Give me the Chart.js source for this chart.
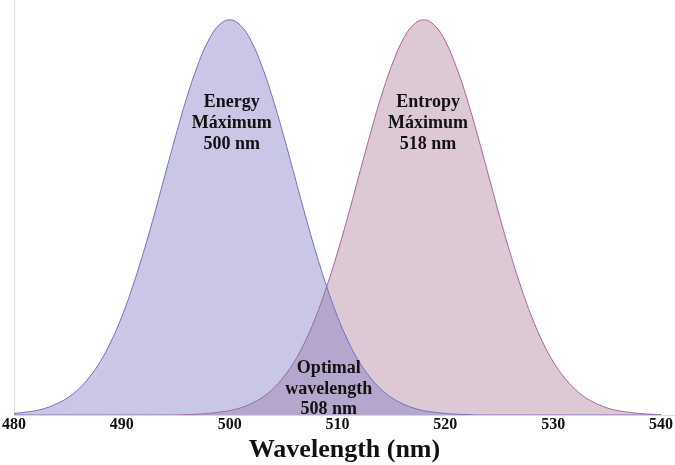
<!DOCTYPE html>
<html>
<head>
<meta charset="utf-8">
<script src="https://cdn.jsdelivr.net/npm/chart.js@4.4.0/dist/chart.umd.min.js"></script>
<style>
html,body{margin:0;padding:0;background:#fff;}
#wrap{width:675px;height:465px;}
</style>
</head>
<body>
<div id="wrap"><canvas id="c"></canvas></div>
<script>
const wavelengths = [480,481,482,483,484,485,486,487,488,489,490,491,492,493,494,495,496,497,498,499,500,501,502,503,504,505,506,507,508,509,510,511,512,513,514,515,516,517,518,519,520,521,522,523,524,525,526,527,528,529,530,531,532,533,534,535,536,537,538,539,540];
const energyValues = [0.004,0.007,0.011,0.018,0.029,0.044,0.066,0.096,0.135,0.186,0.249,0.325,0.411,0.506,0.607,0.707,0.801,0.882,0.946,0.986,1.000,0.986,0.946,0.882,0.801,0.707,0.607,0.506,0.411,0.325,0.249,0.186,0.135,0.096,0.066,0.044,0.029,0.018,0.011,0.007,0.004,0.002,0.001,0,0,0,0,0,0,0,0,0,0,0,0,0,0,0,0,0,0];
const entropyValues = [0,0,0,0,0,0,0,0,0,0,0,0,0,0,0,0,0.001,0.002,0.004,0.007,0.011,0.018,0.029,0.044,0.066,0.096,0.135,0.186,0.249,0.325,0.411,0.506,0.607,0.707,0.801,0.882,0.946,0.986,1.000,0.986,0.946,0.882,0.801,0.707,0.607,0.506,0.411,0.325,0.249,0.186,0.135,0.096,0.066,0.044,0.029,0.018,0.011,0.007,0.004,0.002,0.001];
const xTicks = [480,490,500,510,520,530,540];
const annotations = [
  {x:500.2, y:[0.790,0.738,0.686], lines:["Energy","Máximum","500 nm"]},
  {x:518.4, y:[0.790,0.738,0.686], lines:["Entropy","Máximum","518 nm"]},
  {x:509.2, y:[0.117,0.066,0.015], lines:["Optimal","wavelength","508 nm"]}
];

const labelPlugin = {
  id:'labels',
  afterDatasetsDraw(chart){
    const ctx = chart.ctx, xs = chart.scales.x, ys = chart.scales.y;
    ctx.save();
    ctx.fillStyle = '#111';
    ctx.font = 'bold 18px "Liberation Serif", "Times New Roman", serif';
    ctx.textAlign = 'center';
    ctx.textBaseline = 'middle';
    annotations.forEach(a => {
      a.lines.forEach((t,i) => {
        ctx.fillText(t, xs.getPixelForValue(a.x), ys.getPixelForValue(a.y[i]));
      });
    });
    ctx.restore();
  }
};

new Chart(document.getElementById('c'), {
  type:'line',
  data:{
    datasets:[
      {label:'Energy', data:wavelengths.map((w,i)=>({x:w,y:energyValues[i]})),
       borderColor:'rgb(112,112,190)', backgroundColor:'rgba(120,115,190,0.40)', borderWidth:1,
       fill:'origin', pointRadius:0, tension:0.4},
      {label:'Entropy', data:wavelengths.map((w,i)=>({x:w,y:entropyValues[i]})),
       borderColor:'rgb(170,100,145)', backgroundColor:'rgba(142,75,115,0.30)', borderWidth:1,
       fill:'origin', pointRadius:0, tension:0.4}
    ]
  },
  options:{
    responsive:true, maintainAspectRatio:false, animation:false,
    layout:{padding:{left:5,right:0,top:0,bottom:2}},
    plugins:{legend:{display:false}, tooltip:{enabled:false}},
    scales:{
      x:{type:'linear', min:480, max:541.3,
         afterBuildTicks(s){ s.ticks = xTicks.map(v=>({value:v})); },
         grid:{display:false, drawTicks:false},
         border:{display:true, color:'#d6d6d6', width:1},
         ticks:{padding:2, color:'#111', maxRotation:0, font:{family:'"Liberation Serif", serif', weight:'bold', size:16, lineHeight:1}},
         title:{display:true, text:'Wavelength (nm)', color:'#111', padding:{top:2,bottom:0},
                font:{family:'"Liberation Serif", serif', weight:'bold', size:26, lineHeight:1}}
      },
      y:{min:0, max:1.05,
         ticks:{display:false}, grid:{display:false, drawTicks:false},
         border:{display:true, color:'#dcdcdc', width:1}
      }
    }
  },
  plugins:[labelPlugin]
});
</script>
</body>
</html>
